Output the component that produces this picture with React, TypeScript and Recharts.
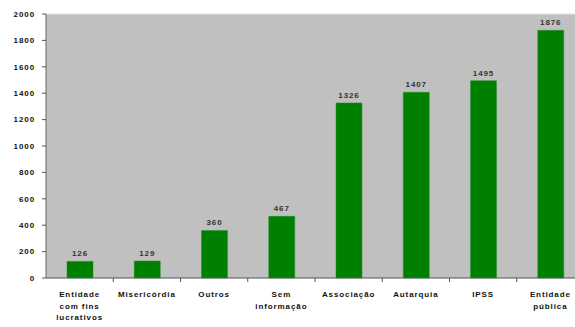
import React from "react";
import { BarChart, Bar, XAxis, YAxis, CartesianGrid, LabelList, ReferenceLine } from "recharts";

const categories = [
  "Entidade\ncom fins\nlucrativos",
  "Misericórdia",
  "Outros",
  "Sem\ninformação",
  "Associação",
  "Autarquia",
  "IPSS",
  "Entidade\npública",
];
const values = [126, 129, 360, 467, 1326, 1407, 1495, 1876];
const yTicks = [0, 200, 400, 600, 800, 1000, 1200, 1400, 1600, 1800, 2000];

const data = categories.map((c, i) => ({ name: c, value: values[i] }));

const CHART_W = 590;
const CHART_H = 327;
const M = { top: 14, right: 6, left: 0, bottom: 0 };
const Y_W = 46;
const FONT = "'Liberation Sans', Arial, sans-serif";

const XTick = (props: any) => {
  const { x, y, payload, index } = props;
  const bw = (CHART_W - M.right - Y_W) / categories.length;
  const lines = String(payload.value).split("\n");
  return (
    <g>
      {index > 0 && (
        <line x1={x - bw / 2} x2={x - bw / 2} y1={y} y2={y + 4} stroke="#555" strokeWidth={1} />
      )}
      <text
        x={x}
        y={y + 19}
        textAnchor="middle"
        fontFamily={FONT}
        fontSize={8}
        fontWeight="bold"
        letterSpacing={0.9}
        fill="#111"
      >
        {lines.map((l, i) => (
          <tspan key={i} x={x} dy={i === 0 ? 0 : 11.5}>
            {l}
          </tspan>
        ))}
      </text>
    </g>
  );
};

export default function App() {
  return (
    <div style={{ position: "absolute", left: 0, top: 0, width: 575, height: 327, overflow: "hidden", background: "#fff" }}>
      <BarChart width={CHART_W} height={CHART_H} data={data} margin={M} barSize={26}>
        <CartesianGrid horizontal={false} vertical={false} fill="#C0C0C0" stroke="none" />
        <ReferenceLine y={2000} stroke="#e2e2e2" strokeWidth={1} />
        <XAxis
          dataKey="name"
          interval={0}
          tick={<XTick />}
          tickLine={false}
          tickSize={0}
          tickMargin={0}
          height={49}
          axisLine={{ stroke: "#555", strokeWidth: 1 }}
        />
        <YAxis
          domain={[0, 2000]}
          ticks={yTicks}
          interval={0}
          width={Y_W}
          tickSize={4}
          tickMargin={7}
          axisLine={{ stroke: "#666", strokeWidth: 1 }}
          tickLine={{ stroke: "#555" }}
          tick={{ fontFamily: FONT, fontSize: 8, fontWeight: "bold", fill: "#111", letterSpacing: 0.9 }}
        />
        <Bar dataKey="value" fill="#008000" stroke="#2a8a2a" strokeWidth={0.5} isAnimationActive={false}>
          <LabelList
            dataKey="value"
            position="top"
            offset={5}
            style={{ fontFamily: FONT, fontSize: 8, fontWeight: "bold", fill: "#333", letterSpacing: 0.9 }}
          />
        </Bar>
      </BarChart>
    </div>
  );
}
